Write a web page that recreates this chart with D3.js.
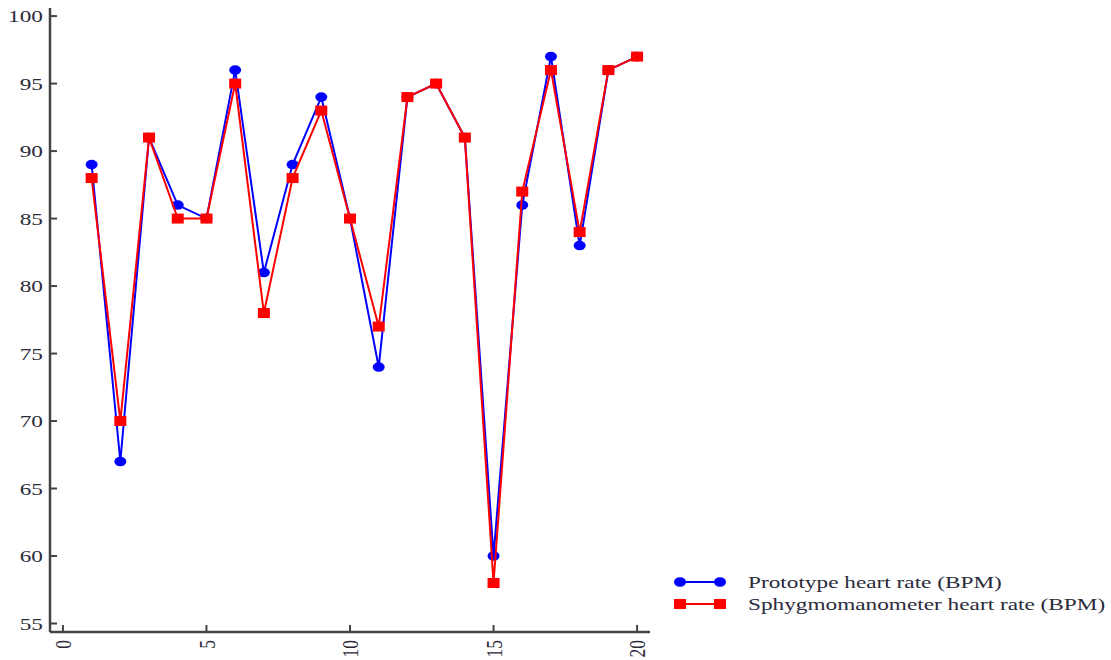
<!DOCTYPE html>
<html>
<head>
<meta charset="utf-8">
<script src="https://cdn.jsdelivr.net/npm/d3@7"></script>
<style>
  html, body { margin: 0; padding: 0; background: #fff; }
  svg { display: block; }
</style>
</head>
<body>
<svg id="chart" width="1111" height="660"></svg>
<script>
// Measurement index (1..20)
const trials = d3.range(1, 21);
// Heart rate from the prototype device (BPM)
const prototypeBPM = [89, 67, 91, 86, 85, 96, 81, 89, 94, 85, 74, 94, 95, 91, 60, 86, 97, 83, 96, 97];
// Heart rate from the sphygmomanometer (BPM)
const sphygmoBPM = [88, 70, 91, 85, 85, 95, 78, 88, 93, 85, 77, 94, 95, 91, 58, 87, 96, 84, 96, 97];
// Axis ticks
const xTicks = [0, 5, 10, 15, 20];
const yTicks = [55, 60, 65, 70, 75, 80, 85, 90, 95, 100];
const seriesNames = ["Prototype heart rate (BPM)", "Sphygmomanometer heart rate (BPM)"];

const svg = d3.select("#chart");
const font = "'Liberation Serif', 'DejaVu Serif', serif";
const axisColor = "#444";
const labelColor = "#2b2b3a";
const fontSize = 17.5;
const stretch = 1.33; // text is drawn wide

const x = d3.scaleLinear().domain([-0.45, 20.45]).range([50, 650]);
const y = d3.scaleLinear().domain([54.37, 100.6]).range([632, 8]);

// Axis lines
svg.append("line").attr("x1", x.range()[0]).attr("x2", x.range()[1])
  .attr("y1", y.range()[0]).attr("y2", y.range()[0])
  .attr("stroke", axisColor).attr("stroke-width", 2.5);
svg.append("line").attr("x1", x.range()[0]).attr("x2", x.range()[0])
  .attr("y1", y.range()[0]).attr("y2", y.range()[1])
  .attr("stroke", axisColor).attr("stroke-width", 2.5);

// Y ticks (pointing inward) and labels
const yAxis = svg.append("g");
yAxis.selectAll("line").data(yTicks).join("line")
  .attr("x1", x.range()[0]).attr("x2", x.range()[0] + 7)
  .attr("y1", d => y(d)).attr("y2", d => y(d))
  .attr("stroke", axisColor).attr("stroke-width", 2);
yAxis.selectAll("text").data(yTicks).join("text")
  .attr("transform", d => `translate(43,${y(d)}) scale(${stretch},1)`)
  .attr("dy", "0.35em")
  .attr("text-anchor", "end")
  .attr("font-family", font).attr("font-size", fontSize)
  .attr("fill", labelColor)
  .text(d => d);

// X ticks (pointing inward) and rotated labels
const xAxis = svg.append("g");
xAxis.selectAll("line").data(xTicks).join("line")
  .attr("x1", d => x(d)).attr("x2", d => x(d))
  .attr("y1", y.range()[0]).attr("y2", y.range()[0] - 7)
  .attr("stroke", axisColor).attr("stroke-width", 2);
xAxis.selectAll("text").data(xTicks).join("text")
  .attr("transform", d => `translate(${x(d)},${y.range()[0] + 8}) scale(${stretch},1) rotate(-90)`)
  .attr("dy", "0.35em")
  .attr("text-anchor", "end")
  .attr("font-family", font).attr("font-size", fontSize)
  .attr("fill", labelColor)
  .text(d => d);

const line = d3.line().x(d => x(d[0])).y(d => y(d[1]));

function drawSeries(values, color, shape) {
  const pts = trials.map((t, i) => [t, values[i]]);
  const g = svg.append("g");
  g.append("path").datum(pts)
    .attr("d", line)
    .attr("fill", "none")
    .attr("stroke", color)
    .attr("stroke-width", 2);
  if (shape === "circle") {
    g.selectAll("ellipse").data(pts).join("ellipse")
      .attr("cx", d => x(d[0])).attr("cy", d => y(d[1]))
      .attr("rx", 6).attr("ry", 4.8)
      .attr("fill", color);
  } else {
    g.selectAll("rect").data(pts).join("rect")
      .attr("x", d => x(d[0]) - 6).attr("y", d => y(d[1]) - 5)
      .attr("width", 12).attr("height", 10)
      .attr("fill", color);
  }
}

drawSeries(prototypeBPM, "#0000ff", "circle");
drawSeries(sphygmoBPM, "#ff0000", "square");

// Legend
const legend = svg.append("g");
const legendItems = [
  { name: seriesNames[0], color: "#0000ff", shape: "circle" },
  { name: seriesNames[1], color: "#ff0000", shape: "square" }
];
legendItems.forEach((item, i) => {
  const ly = 582 + i * 22;
  const g = legend.append("g");
  g.append("line").attr("x1", 680).attr("x2", 720).attr("y1", ly).attr("y2", ly)
    .attr("stroke", item.color).attr("stroke-width", 2);
  [680, 720].forEach(cx => {
    if (item.shape === "circle") {
      g.append("ellipse").attr("cx", cx).attr("cy", ly).attr("rx", 6).attr("ry", 4.8).attr("fill", item.color);
    } else {
      g.append("rect").attr("x", cx - 6).attr("y", ly - 5).attr("width", 12).attr("height", 10).attr("fill", item.color);
    }
  });
  g.append("text")
    .attr("transform", `translate(748,${ly}) scale(${stretch},1)`)
    .attr("dy", "0.35em")
    .attr("font-family", font).attr("font-size", fontSize)
    .attr("fill", labelColor)
    .text(item.name);
});
</script>
</body>
</html>
